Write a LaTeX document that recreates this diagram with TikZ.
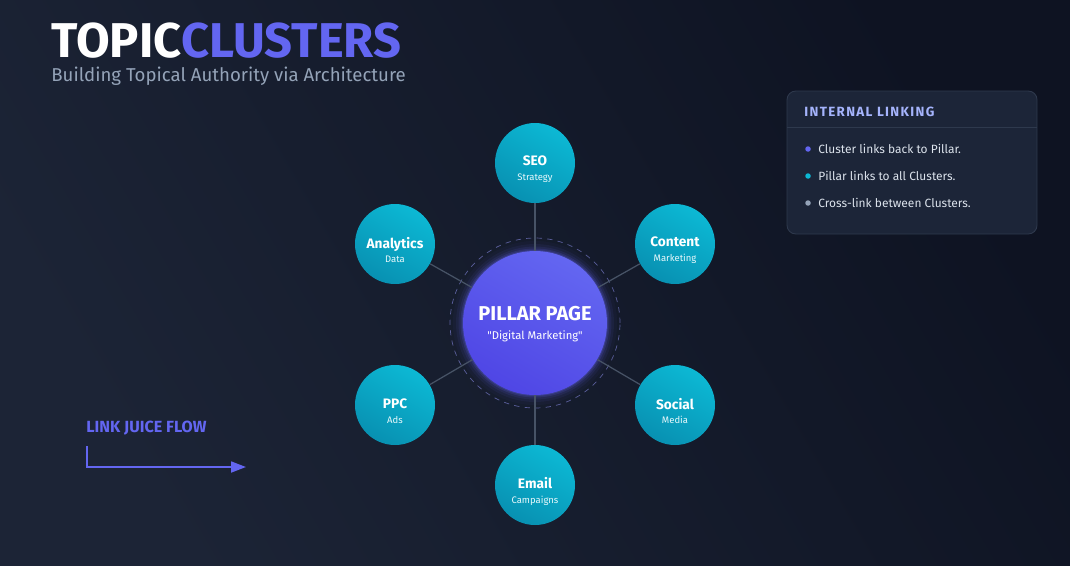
\documentclass[tikz,border=0pt]{standalone}
\usepackage{fontspec}
\setmainfont{Fira Sans}
\usepackage{xcolor}
\usepackage{tikz}
\usetikzlibrary{arrows.meta}

\definecolor{bgdark}{HTML}{0E1322}
\definecolor{bglight}{HTML}{1C2436}
\definecolor{indigo}{HTML}{6366F1}
\definecolor{indigodeep}{HTML}{4F46E5}
\definecolor{tealtop}{HTML}{0CB8D4}
\definecolor{tealbot}{HTML}{0891B2}
\definecolor{linkgray}{HTML}{475366}
\definecolor{panelfill}{HTML}{1C2538}
\definecolor{panelline}{HTML}{2E394D}
\definecolor{headblue}{HTML}{A5B4FC}
\definecolor{subgray}{HTML}{94A3B8}
\definecolor{itemtext}{HTML}{DCE3EC}

\tikzset{
  cluster/.style={circle, minimum size=1.6cm, inner sep=0pt,
    top color=tealtop, bottom color=tealbot, shading angle=-30},
  clustertext/.style={align=center, text=white, inner sep=0pt},
  bullet/.style={circle, inner sep=0pt, minimum size=0.11cm},
  itemtxt/.style={anchor=base west, text=itemtext, inner sep=0pt,
    font=\fontsize{6.8}{8}\selectfont},
}

\begin{document}
\begin{tikzpicture}[x=0.02cm, y=-0.02cm]
        % Background
        \shade[left color=bgdark, right color=bglight, shading angle=-60]
          (0,0) rectangle (1070,565);
        \useasboundingbox (0,0) rectangle (1070,565);
        % Title
        \node[anchor=base west, inner sep=0pt, font=\fontsize{27.8}{30}\selectfont\bfseries]
          (title) at (51,57) {\color{white}TOPIC\color{indigo}CLUSTERS};
        \node[anchor=base west, inner sep=0pt, text=subgray,
          font=\fontsize{10.6}{12}\selectfont]
          (subtitle) at (51,81) {Building Topical Authority via Architecture};
        % Pillar with glow and dashed ring
        \coordinate (centre) at (535,323);
        \foreach \r/\o in {1.64/0.04,1.58/0.07,1.53/0.10,1.49/0.16,1.46/0.24}{
          \fill[indigo, opacity=\o] (centre) circle[radius=\r cm];
        }
        \draw[indigo!70!white, dashed, opacity=0.55, thin]
          (centre) circle[radius=1.7cm];
        \node[circle, minimum size=2.88cm, inner sep=0pt,
          top color=indigo, bottom color=indigodeep, shading angle=-30]
          (pillar) at (centre) {};
        \node[align=center, text=white, inner sep=0pt] (pillartext) at (535,324)
          {{\fontsize{11.4}{12}\selectfont\bfseries PILLAR PAGE}\\[-1pt]
           {\fontsize{6.4}{8}\selectfont\textquotedbl Digital Marketing\textquotedbl}};
        % Cluster pages
        \foreach \n/\x/\y/\ttl/\sub in {seo/535/163/SEO/Strategy,
            content/675/244/Content/Marketing, social/675/405/Social/Media,
            email/535/485/Email/Campaigns, ppc/395/405/PPC/Ads,
            analytics/395/244/Analytics/Data}{
          \node[cluster] (\n) at (\x,\y) {};
          \node[clustertext] (\n text) at (\x,\y+6)
            {{\fontsize{7.8}{8}\selectfont\bfseries \ttl}\\[-3.5pt]
             {\fontsize{5.4}{6}\selectfont\color{white!90!tealtop}\sub}};
          \draw[linkgray, line width=0.7pt] (pillar) -- (\n);
        }
        % Internal linking panel
        \draw[rounded corners=5pt, fill=panelfill, draw=panelline, line width=0.5pt]
          (787,91) rectangle (1037,234);
        \draw[panelline, line width=0.5pt] (787,127) -- (1037,127);
        \node[anchor=base west, inner sep=0pt, text=headblue,
          font=\fontsize{7.6}{9}\selectfont\bfseries\addfontfeatures{LetterSpace=10}]
          (panelhead) at (804,116) {INTERNAL LINKING};
        \node[bullet, fill=indigo] (dota) at (808,149) {};
        \node[itemtxt] (itema) at (818,153) {Cluster links back to Pillar.};
        \node[bullet, fill=tealtop] (dotb) at (808,176) {};
        \node[itemtxt] (itemb) at (818,180) {Pillar links to all Clusters.};
        \node[bullet, fill=subgray] (dotc) at (808,203) {};
        \node[itemtxt] (itemc) at (818,207) {Cross-link between Clusters.};
        % Link juice flow
        \node[anchor=base west, inner sep=0pt, text=indigo,
          font=\fontsize{9.2}{10}\selectfont\bfseries] (flowlabel) at (86,432) {LINK JUICE FLOW};
        \coordinate (flowtop) at (87,446);
        \coordinate (flowend) at (246,467);
        \draw[indigo, line width=1pt, -{Triangle[length=0.3cm, width=0.22cm]}]
          (flowtop) |- (flowend);
      \end{tikzpicture}
\end{document}
